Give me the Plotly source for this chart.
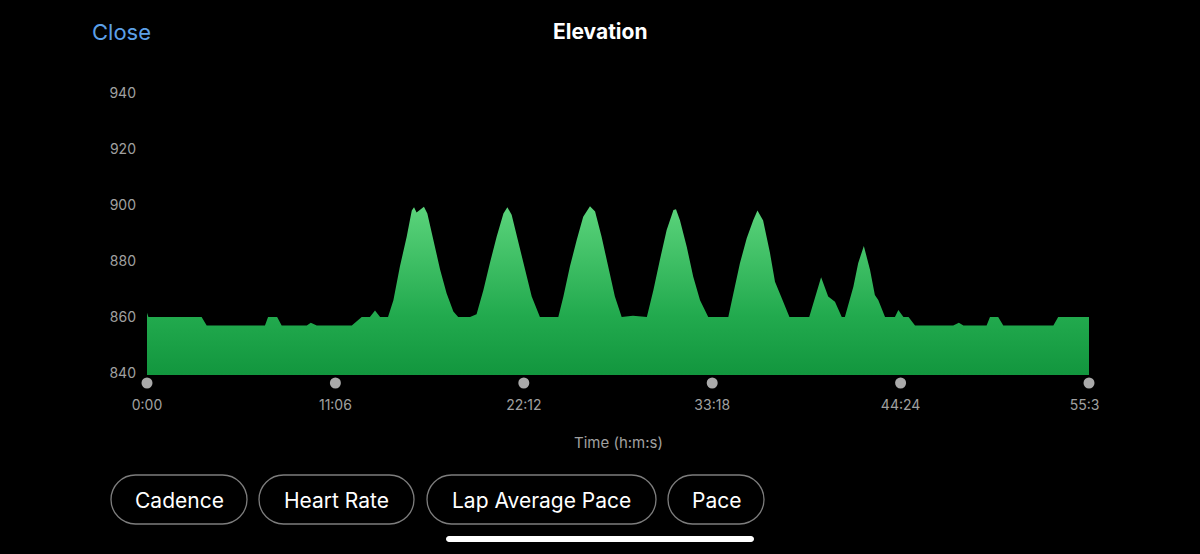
import plotly.graph_objects as go

# ---------------- data ----------------
time_s = [0, 5, 193, 211, 417, 428, 460, 476, 565, 579, 600, 724, 759, 788, 806, 824, 852,
          871, 894, 918, 936, 944, 953, 965, 979, 991, 1012, 1036, 1059, 1083, 1100, 1142,
          1165, 1189, 1212, 1236, 1260, 1274, 1289, 1313, 1336, 1360, 1389, 1454,
          1472, 1495, 1519, 1542, 1566, 1584, 1607, 1631, 1654, 1678, 1718, 1767,
          1790, 1813, 1837, 1861, 1870, 1884, 1908, 1931, 1955, 1984, 2055,
          2073, 2096, 2120, 2143, 2158, 2178, 2202, 2220, 2244, 2271, 2341,
          2361, 2383, 2408, 2432, 2456, 2467, 2497, 2514, 2534, 2556, 2573, 2585, 2609,
          2644, 2656, 2674, 2692, 2715, 2850, 2870, 2886, 2968, 2980, 3009, 3027,
          3204, 3221, 3330]
elevation = [861.5, 860, 860, 857, 857, 860, 860, 857, 857, 858, 857, 857, 860, 860, 862.3, 860, 860,
             866, 878, 888.7, 898, 899.2, 897.3, 898.2, 899.4, 897, 887.5, 877, 868.5, 862, 860, 860,
             861, 869.6, 879.2, 888.7, 897, 899.2, 896.5, 886.3, 876.8, 867.3, 860, 860,
             867.3, 878, 887.5, 895.8, 899.6, 897.7, 888.7, 878, 867.3, 860, 860.5, 860,
             869.6, 880.4, 891.1, 898.2, 898.5, 894.6, 885.1, 874.4, 866, 860, 860,
             868.5, 879.2, 888.1, 894.6, 898, 894.5, 883, 872.6, 866.7, 860, 860,
             867, 874.2, 867.3, 865.5, 860, 860, 870.8, 879.2, 885.4, 876.8, 867.9, 866.1, 860,
             860, 862.5, 860, 860, 857, 857, 858, 857, 857, 860, 860, 857,
             857, 860, 860]

y_ticks = [840, 860, 880, 900, 920, 940]
x_ticks = [0, 666, 1332, 1998, 2664, 3330]
x_tick_labels = ["0:00", "11:06", "22:12", "33:18", "44:24", "55:30"]
buttons = ["Cadence", "Heart Rate", "Lap Average Pace", "Pace"]

# ---------------- layout geometry (pixels) ----------------
W, H = 1200, 554
L, R, T, B = 147, 111, 93, 179
PW, PH = W - L - R, H - T - B
Y_MIN, Y_MAX = 839.3, 940
X_MIN, X_MAX = 0, 3330

def px(x):
    return (x - L) / PW

def py(y):
    return (H - B - y) / PH

def pill_path(x0, x1, y0, y1):
    r = (y1 - y0) / 2
    k = 0.5523 * r
    pts = [
        ("M", [(x0 + r, y0)]),
        ("L", [(x1 - r, y0)]),
        ("C", [(x1 - r + k, y0), (x1, y0 + r - k), (x1, y0 + r)]),
        ("C", [(x1, y0 + r + k), (x1 - r + k, y1), (x1 - r, y1)]),
        ("L", [(x0 + r, y1)]),
        ("C", [(x0 + r - k, y1), (x0, y0 + r + k), (x0, y0 + r)]),
        ("C", [(x0, y0 + r - k), (x0 + r - k, y0), (x0 + r, y0)]),
    ]
    s = ""
    for cmd, ps in pts:
        s += cmd + " " + " ".join(f"{px(a):.5f},{py(b):.5f}" for a, b in ps) + " "
    return s + "Z"

FONT = "Inter, Roboto, sans-serif"

fig = go.Figure()

fig.add_trace(go.Scatter(
    x=time_s, y=elevation, mode="lines", fill="tozeroy",
    line=dict(width=0, color="rgb(60,190,100)"),
    fillgradient=dict(
        type="vertical", start=Y_MIN, stop=900,
        colorscale=[[0, "rgb(18,150,62)"], [0.35, "rgb(34,170,78)"], [1, "rgb(92,212,124)"]],
    ),
    hoverinfo="skip", showlegend=False,
))

shapes = []
# tick dots under the x axis (anchored at each tick value, in paper space so they are not clipped)
for tv in x_ticks:
    shapes.append(dict(type="circle", xref="paper", yref="paper",
                       xsizemode="pixel", ysizemode="pixel",
                       xanchor=(tv - X_MIN) / (X_MAX - X_MIN), yanchor=py(383),
                       x0=-5.5, x1=5.5, y0=-5.5, y1=5.5,
                       fillcolor="rgb(170,170,170)", line=dict(width=0),
                       layer="above"))

# buttons
btn_boxes = [(111, 247), (259, 414), (427, 656), (668, 764)]
annotations = []
for label, (bx0, bx1) in zip(buttons, btn_boxes):
    shapes.append(dict(type="path", xref="paper", yref="paper",
                       path=pill_path(bx0, bx1, 475, 524),
                       line=dict(color="rgb(125,125,125)", width=1.3),
                       fillcolor="rgba(0,0,0,0)", layer="above"))
    annotations.append(dict(text=label, x=px((bx0 + bx1) / 2), y=py(500),
                            xref="paper", yref="paper", showarrow=False,
                            xanchor="center", yanchor="middle",
                            font=dict(family=FONT, size=21, color="white")))

# home indicator
shapes.append(dict(type="path", xref="paper", yref="paper",
                   path=pill_path(446, 754, 536, 542),
                   line=dict(width=0), fillcolor="white", layer="above"))
# right-edge clip of last tick label
shapes.append(dict(type="rect", xref="paper", yref="paper",
                   x0=px(1100), x1=px(1200), y0=py(420), y1=py(392),
                   line=dict(width=0), fillcolor="black", layer="above"))

annotations += [
    dict(text="Elevation", x=px(600), y=py(32), xref="paper", yref="paper",
         showarrow=False, xanchor="center", yanchor="middle",
         font=dict(family=FONT, size=21, color="white", weight="bold")),
    dict(text="Close", x=px(90), y=py(32), xref="paper", yref="paper",
         showarrow=False, xanchor="left", yanchor="middle",
         font=dict(family=FONT, size=22, color="rgb(92,160,232)")),
    dict(text="Time (h:m:s)", x=px(618), y=py(442), xref="paper", yref="paper",
         showarrow=False, xanchor="center", yanchor="middle",
         font=dict(family=FONT, size=15, color="rgb(160,160,160)")),
]

fig.update_layout(
    width=W, height=H,
    margin=dict(l=L, r=R, t=T, b=B, pad=0),
    paper_bgcolor="black", plot_bgcolor="black",
    font=dict(family=FONT, color="rgb(160,160,160)"),
    xaxis=dict(range=[X_MIN, X_MAX], tickvals=x_ticks, ticktext=x_tick_labels,
               showgrid=False, zeroline=False, showline=False, ticks="",
               ticklabelstandoff=20,
               tickfont=dict(family=FONT, size=14, color="rgb(160,160,160)")),
    yaxis=dict(range=[Y_MIN, Y_MAX], tickvals=y_ticks,
               showgrid=False, zeroline=False, showline=False, ticks="",
               ticklabelstandoff=10,
               tickfont=dict(family=FONT, size=14, color="rgb(160,160,160)")),
    shapes=shapes, annotations=annotations,
)

fig.write_html("out.html")
